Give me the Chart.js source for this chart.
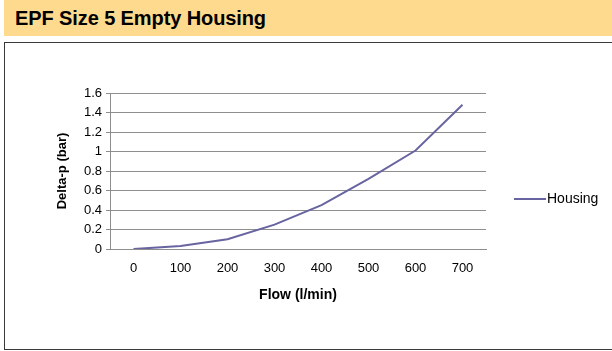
<!DOCTYPE html>
<html>
<head>
<meta charset="utf-8">
<script src="https://cdn.jsdelivr.net/npm/chart.js@4/dist/chart.umd.min.js"></script>
<style>
  html, body { margin: 0; padding: 0; background: #fff; overflow: hidden; }
  body { width: 612px; height: 351px; position: relative; font-family: "Liberation Sans", Arial, sans-serif; }
  #banner {
    position: absolute; left: 4px; top: 0; width: 608px; height: 36px;
    background: #fdda8e;
  }
  #banner h1 {
    margin: 0; position: absolute; left: 11px; top: 7px;
    font-size: 20px; font-weight: bold; color: #000; letter-spacing: -0.1px;
  }
  #frame {
    position: absolute; left: 4px; top: 42px; width: 640px; height: 306px;
    border: 1.5px solid #3a3a3a;
  }
  #wrap { position: absolute; left: 1px; top: 1px; width: 607px; height: 305px; }
</style>
</head>
<body>
<div id="banner"><h1>EPF Size 5 Empty Housing</h1></div>
<div id="frame"><div id="wrap"><canvas id="flowChart"></canvas></div></div>
<script>
const flows = ["0", "100", "200", "300", "400", "500", "600", "700"];
const housing = [0, 0.03, 0.1, 0.25, 0.45, 0.72, 1.01, 1.48];
const seriesName = "Housing";

const gridGray = "#8e8e8e";
const lineColor = "rgb(104, 100, 160)";

// legend entry drawn to the right of the plot
const sideLegend = {
    id: "sideLegend",
    afterDraw(chart) {
        const ctx = chart.ctx;
        const area = chart.chartArea;
        chart.data.datasets.forEach((ds, i) => {
            const x = area.right + 28;
            const y = 155 + i * 18;
            ctx.save();
            ctx.strokeStyle = ds.borderColor;
            ctx.lineWidth = 2;
            ctx.beginPath();
            ctx.moveTo(x, y);
            ctx.lineTo(x + 32, y);
            ctx.stroke();
            ctx.fillStyle = "#000";
            ctx.font = "14px 'Liberation Sans', Arial, sans-serif";
            ctx.textBaseline = "middle";
            ctx.fillText(ds.label, x + 33, y);
            ctx.restore();
        });
    }
};

const ctx = document.getElementById("flowChart").getContext("2d");
const myChart = new Chart(ctx, {
    type: "line",
    data: {
        labels: flows,
        datasets: [
            {
                label: seriesName,
                data: housing,
                borderColor: lineColor,
                borderWidth: 2,
                pointRadius: 0,
                tension: 0,
                fill: false,
            },
        ],
    },
    options: {
        responsive: true,
        maintainAspectRatio: false,
        animation: false,
        layout: {
            padding: { left: 43, top: 49, right: 127, bottom: 40 },
        },
        plugins: {
            legend: { display: false },
            tooltip: { enabled: false },
        },
        scales: {
            x: {
                offset: true,
                grid: { display: false, drawTicks: false },
                border: { display: true, color: gridGray, width: 1 },
                ticks: {
                    color: "#000",
                    padding: 12,
                    maxRotation: 0,
                    font: { family: "'Liberation Sans', Arial, sans-serif", size: 13 },
                },
                title: {
                    display: true,
                    text: "Flow (l/min)",
                    color: "#000",
                    padding: { top: 0, bottom: 5 },
                    font: { family: "'Liberation Sans', Arial, sans-serif", size: 14, weight: "bold" },
                },
                afterFit(scale) { scale.height = 60; },
            },
            y: {
                min: 0,
                max: 1.6,
                grid: { color: gridGray, lineWidth: 1, tickLength: 4, tickColor: gridGray },
                border: { display: true, color: gridGray, width: 1 },
                ticks: {
                    stepSize: 0.2,
                    color: "#000",
                    padding: 4,
                    callback: (v) => String(+v.toFixed(1)),
                    font: { family: "'Liberation Sans', Arial, sans-serif", size: 13 },
                },
                title: {
                    display: true,
                    text: "Delta-p (bar)",
                    color: "#000",
                    padding: { top: 6, bottom: 0 },
                    font: { family: "'Liberation Sans', Arial, sans-serif", size: 13, weight: "bold" },
                },
                afterFit(scale) { scale.width = 61; },
            },
        },
    },
    plugins: [sideLegend],
});
</script>
</body>
</html>
